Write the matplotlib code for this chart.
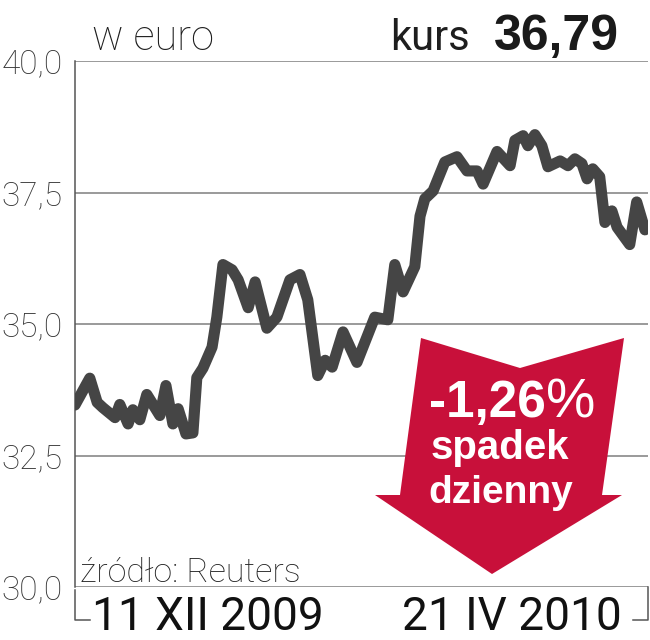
import matplotlib
matplotlib.use("Agg")
import matplotlib.pyplot as plt
import matplotlib.transforms as mtransforms
from matplotlib.font_manager import fontManager
from matplotlib.patches import Polygon
from matplotlib.lines import Line2D

# kurs akcji, 11 XII 2009 - 21 IV 2010 (dni od poczatku okresu)
days = [0, 3.4, 5.1, 6.4, 9.2, 10.3, 12.2, 13.3, 14.9, 16.5, 19.5, 20.9, 22.5,
        23.7, 25.5, 27.1, 28.0, 29.4, 31.5, 32.6, 34.0, 36.1, 37.5, 39.8, 41.4,
        44.1, 46.4, 49.4, 51.7, 53.5, 55.8, 57.5, 59.1, 61.6, 64.8, 68.9, 71.9,
        73.5, 75.4, 78.1, 79.3, 80.4, 82.3, 85.0, 87.8, 90.1, 92.4, 93.8, 97.0,
        100.0, 101.1, 103.0, 104.1, 105.7, 107.3, 108.7, 111.5, 113.3, 114.9,
        116.5, 117.7, 119.0, 120.6, 121.8, 123.4, 124.6, 127.5, 129.1, 131.0]
prices = [33.46, 33.97, 33.51, 33.41, 33.22, 33.47, 33.10, 33.37, 33.18, 33.66,
          33.26, 33.83, 33.10, 33.39, 32.91, 32.93, 33.98, 34.16, 34.56, 35.13,
          36.13, 36.03, 35.84, 35.31, 35.80, 34.92, 35.13, 35.84, 35.94, 35.46,
          34.02, 34.31, 34.18, 34.85, 34.27, 35.13, 35.08, 36.13, 35.61, 36.09,
          37.05, 37.38, 37.53, 38.08, 38.18, 37.91, 37.91, 37.66, 38.28, 38.01,
          38.49, 38.58, 38.39, 38.60, 38.39, 37.99, 38.10, 38.01, 38.14, 38.05,
          37.76, 37.95, 37.80, 36.93, 37.15, 36.84, 36.51, 37.32, 36.79]

y_ticks = [30.0, 32.5, 35.0, 37.5, 40.0]
y_labels = ["30,0", "32,5", "35,0", "37,5", "40,0"]
date_start = "11 XII 2009"
date_end = "21 IV 2010"
last_price = "36,79"
change = "-1,26"


def pick(*names):
    have = {f.name for f in fontManager.ttflist}
    for n in names:
        if n in have:
            return n
    return "DejaVu Sans"


thin_font = pick("Roboto", "Liberation Sans", "Open Sans")
bold_font = pick("Liberation Sans", "Roboto", "DejaVu Sans")

line_color = "#454545"
grid_color = "#9a9a9a"
red = "#c8103a"

fig = plt.figure(figsize=(6.5, 6.4), dpi=100)
# pixel coordinates of the 650x640 canvas, origin top-left
px = mtransforms.Affine2D().scale(1 / 650, -1 / 640).translate(0, 1) + fig.transFigure

ax = fig.add_axes([75 / 650, 1 - 587 / 640, 573 / 650, 526 / 640])
ax.set_ylim(30, 40)
ax.set_xlim(0, 131.7)

for y in y_ticks:
    ax.axhline(y, color=grid_color, lw=1.4, zorder=1)

ax.plot(days, prices, color=line_color, lw=8, solid_joinstyle="round",
        solid_capstyle="round", zorder=3)

for s in ["top", "right", "bottom"]:
    ax.spines[s].set_visible(False)
ax.spines["left"].set_color("#555555")
ax.spines["left"].set_linewidth(1.1)

ax.set_xticks([])
ax.set_yticks(y_ticks)
ax.set_yticklabels(y_labels)
ax.tick_params(axis="y", length=0, pad=9, labelsize=24, labelcolor="#333333")
for lab in ax.get_yticklabels():
    lab.set_fontfamily(thin_font)
    lab.set_fontweight("light")

# bottom bracket
fig.add_artist(Line2D([75, 75, 90], [590, 620, 620], transform=px,
                      color="#555555", lw=1.1))
fig.add_artist(Line2D([648, 648, 633], [587, 620, 620], transform=px,
                      color="#555555", lw=1.1))

# red arrow
arrow = [(421, 338), (520, 368), (624, 338), (602, 495), (622, 495),
         (492, 574), (375, 495), (400, 495)]
fig.add_artist(Polygon(arrow, closed=True, transform=px, facecolor=red,
                       edgecolor="none", zorder=5))

fig.text(92, 50, "w euro", transform=px, fontsize=30, family=thin_font,
         fontweight="light", color="#1e1e1e", va="baseline")
fig.text(390, 50, "kurs", transform=px, fontsize=30, family=thin_font,
         color="#1e1e1e", va="baseline")
fig.text(619, 50, last_price, transform=px, fontsize=36, family=bold_font,
         fontweight="bold", color="#1a1a1a", va="baseline", ha="right")
fig.text(80, 582, "źródło: Reuters", transform=px, fontsize=24.5, family=thin_font,
         fontweight="light", color="#222222", va="baseline")
fig.text(92, 630, date_start, transform=px, fontsize=33, family=thin_font,
         color="#111111", va="baseline")
fig.text(622, 630, date_end, transform=px, fontsize=33, family=thin_font,
         color="#111111", va="baseline", ha="right")

fig.text(546, 417, change, transform=px, fontsize=37, family=bold_font,
         fontweight="bold", color="white", va="baseline", ha="right", zorder=6)
fig.text(546, 417, "%", transform=px, fontsize=40, family=bold_font,
         color="white", va="baseline", ha="left", zorder=6)
fig.text(500, 459, "spadek", transform=px, fontsize=29, family=bold_font,
         fontweight="bold", color="white", va="baseline", ha="center", zorder=6)
fig.text(501, 503, "dzienny", transform=px, fontsize=28, family=bold_font,
         fontweight="bold", color="white", va="baseline", ha="center", zorder=6)

fig.savefig("out.png", dpi=100)
